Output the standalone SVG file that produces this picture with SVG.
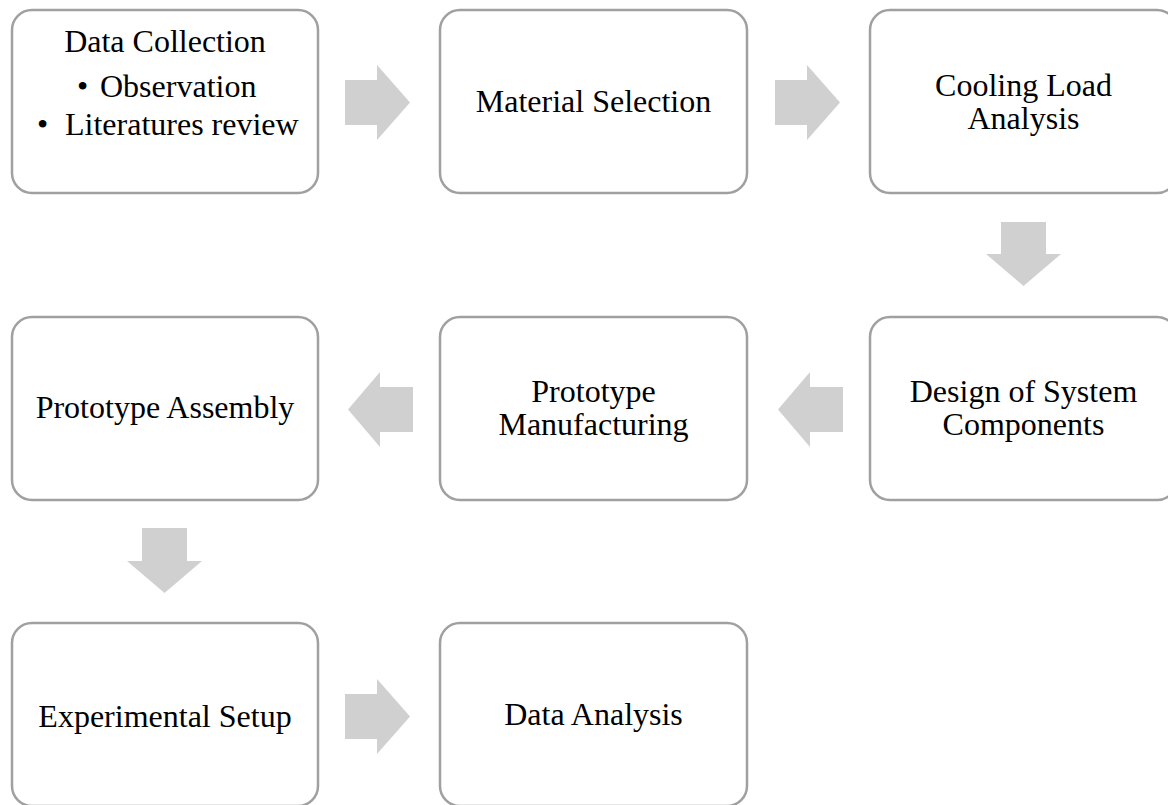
<svg xmlns="http://www.w3.org/2000/svg" width="1168" height="805" viewBox="0 0 1168 805">
  <style>
    .box { fill: #ffffff; stroke: #a0a0a0; stroke-width: 2.5; }
    .lbl { font-family: "Liberation Serif", "Times New Roman", serif; font-size: 32px; fill: #000000; text-anchor: middle; }
    .lft { text-anchor: start; }
    .arrow { fill: #d0d0d0; stroke: none; }
  </style>
  <rect width="1168" height="805" fill="#ffffff"/>

  <!-- process steps -->
  <g id="node-data-collection">
    <rect class="box" x="12" y="10" width="306" height="183" rx="20"/>
    <text class="lbl" x="165" y="52">Data Collection</text>
    <text class="lbl lft" x="77" y="97">•</text>
    <text class="lbl lft" x="100" y="97">Observation</text>
    <text class="lbl lft" x="37" y="135">•</text>
    <text class="lbl lft" x="65" y="135">Literatures review</text>
  </g>
  <g id="node-material-selection">
    <rect class="box" x="440" y="10" width="307" height="183" rx="20"/>
    <text class="lbl" x="593.5" y="112">Material Selection</text>
  </g>
  <g id="node-cooling-load">
    <rect class="box" x="870" y="10" width="307" height="183" rx="20"/>
    <text class="lbl" x="1023.5" y="96">Cooling Load</text>
    <text class="lbl" x="1023.5" y="129">Analysis</text>
  </g>
  <g id="node-design-components">
    <rect class="box" x="870" y="317" width="307" height="183" rx="20"/>
    <text class="lbl" x="1023.5" y="402">Design of System</text>
    <text class="lbl" x="1023.5" y="435">Components</text>
  </g>
  <g id="node-prototype-manufacturing">
    <rect class="box" x="440" y="317" width="307" height="183" rx="20"/>
    <text class="lbl" x="593.5" y="402">Prototype</text>
    <text class="lbl" x="593.5" y="435">Manufacturing</text>
  </g>
  <g id="node-prototype-assembly">
    <rect class="box" x="12" y="317" width="306" height="183" rx="20"/>
    <text class="lbl" x="165" y="418">Prototype Assembly</text>
  </g>
  <g id="node-experimental-setup">
    <rect class="box" x="12" y="623" width="306" height="183" rx="20"/>
    <text class="lbl" x="165" y="727">Experimental Setup</text>
  </g>
  <g id="node-data-analysis">
    <rect class="box" x="440" y="623" width="307" height="183" rx="20"/>
    <text class="lbl" x="593.5" y="725">Data Analysis</text>
  </g>

  <!-- block arrows between steps -->
  <g id="connectors">
    <polygon class="arrow" points="345,80 377,80 377,65 410,102.5 377,140 377,125 345,125"/>
    <polygon class="arrow" points="775,80 807,80 807,65 840,102.5 807,140 807,125 775,125"/>
    <polygon class="arrow" points="1001,222 1046,222 1046,254 1061,254 1023.5,286 986,254 1001,254"/>
    <polygon class="arrow" points="843,387 810,387 810,372 778,409.5 810,447 810,432 843,432"/>
    <polygon class="arrow" points="413,387 380,387 380,372 348,409.5 380,447 380,432 413,432"/>
    <polygon class="arrow" points="142,528 187,528 187,561 202,561 164.5,593 127,561 142,561"/>
    <polygon class="arrow" points="345,694 377,694 377,679 410,716.5 377,754 377,739 345,739"/>
  </g>
</svg>
